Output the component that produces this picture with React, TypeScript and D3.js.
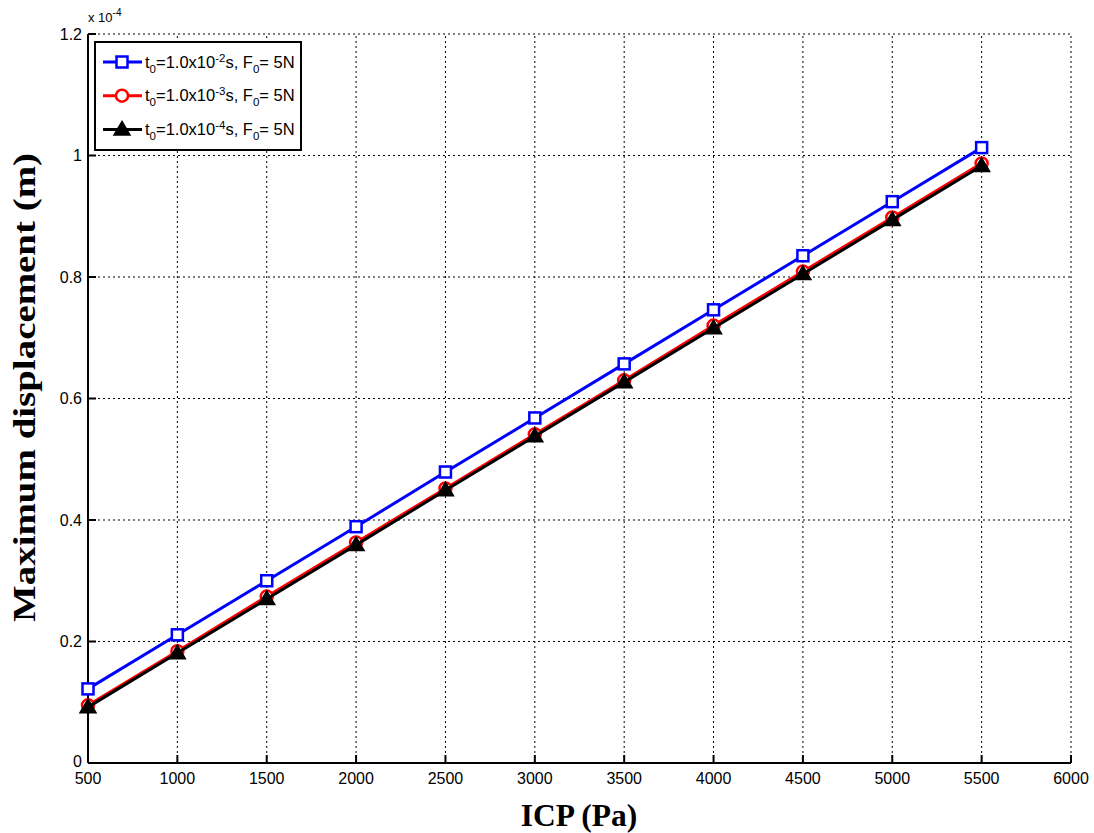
import React from "react";
import * as d3 from "d3";

const icp = [500, 1000, 1500, 2000, 2500, 3000, 3500, 4000, 4500, 5000, 5500];
const blueVals = [0.122, 0.211, 0.300, 0.389, 0.479, 0.568, 0.657, 0.746, 0.835, 0.924, 1.013];
const redVals = [0.095, 0.184, 0.274, 0.363, 0.452, 0.541, 0.630, 0.720, 0.809, 0.898, 0.987];
const blackVals = [0.092, 0.181, 0.270, 0.359, 0.449, 0.538, 0.627, 0.716, 0.805, 0.894, 0.983];
const xTicks = [500, 1000, 1500, 2000, 2500, 3000, 3500, 4000, 4500, 5000, 5500, 6000];
const yTicks = [0, 0.2, 0.4, 0.6, 0.8, 1, 1.2];
const legendExps = ["-2", "-3", "-4"];

const W = 1094, H = 833;
const L = 88, R = 1071, T = 34, B = 763;

export default function App() {
  const x = d3.scaleLinear().domain([500, 6000]).range([L, R]);
  const y = d3.scaleLinear().domain([0, 1.2]).range([B, T]);
  const line = d3.line<number>().x((_, i) => x(icp[i])).y((d) => y(d));
  const font = "'Liberation Sans', Arial, sans-serif";
  const serif = "'Liberation Serif', 'Times New Roman', serif";

  const series = [
    { vals: blueVals, color: "#0000ff", marker: "square" },
    { vals: redVals, color: "#ff0000", marker: "circle" },
    { vals: blackVals, color: "#000000", marker: "triangle" },
  ];

  const drawMarker = (m: string, color: string, cx: number, cy: number, key: any) => {
    if (m === "square")
      return <rect key={key} x={cx - 5.5} y={cy - 5.5} width={11} height={11} fill="white" stroke={color} strokeWidth={2.5} />;
    if (m === "circle")
      return <circle key={key} cx={cx} cy={cy} r={6} fill="white" stroke={color} strokeWidth={2.5} />;
    const s = 8;
    return (
      <path key={key} d={`M${cx},${cy - s}L${cx + s},${cy + s * 0.7}L${cx - s},${cy + s * 0.7}Z`} fill="black" stroke={color} strokeWidth={1.5} />
    );
  };

  return (
    <svg width={W} height={H} style={{ position: "absolute", left: 0, top: 0, background: "white" }}>
      <rect width={W} height={H} fill="white" />
      {/* grid */}
      {xTicks.map((t) => (
        <line key={"gx" + t} x1={x(t)} x2={x(t)} y1={B} y2={T} stroke="black" strokeWidth={1} strokeDasharray="2,3" />
      ))}
      {yTicks.map((t) => (
        <line key={"gy" + t} x1={L} x2={R} y1={y(t)} y2={y(t)} stroke="black" strokeWidth={1} strokeDasharray="2,3" />
      ))}
      {/* axes */}
      <line x1={L} x2={R} y1={B} y2={B} stroke="black" strokeWidth={2} />
      <line x1={L} x2={L} y1={B} y2={T} stroke="black" strokeWidth={2} />
      {xTicks.map((t) => (
        <line key={"tx" + t} x1={x(t)} x2={x(t)} y1={B} y2={B - 8} stroke="black" strokeWidth={2} />
      ))}
      {yTicks.map((t) => (
        <line key={"ty" + t} x1={L} x2={L + 8} y1={y(t)} y2={y(t)} stroke="black" strokeWidth={2} />
      ))}
      {xTicks.map((t) => (
        <text key={"lx" + t} x={x(t)} y={B + 21} textAnchor="middle" fontFamily={font} fontSize={16}>{t}</text>
      ))}
      {yTicks.map((t) => (
        <text key={"ly" + t} x={L - 6} y={y(t) + (t === 0 ? 4 : 5.5)} textAnchor="end" fontFamily={font} fontSize={16}>{String(t)}</text>
      ))}
      <text x={L} y={T - 12} fontFamily={font} fontSize={13}>
        x 10<tspan dy={-6} fontSize={10}>-4</tspan>
      </text>
      {/* series */}
      {series.map((s, si) => (
        <g key={"s" + si}>
          <path d={line(s.vals) || ""} fill="none" stroke={s.color} strokeWidth={3} />
          {s.vals.map((v, i) => drawMarker(s.marker, s.color, x(icp[i]), y(v), i))}
        </g>
      ))}
      {/* legend */}
      <rect x={95} y={42} width={206} height={108} fill="white" stroke="black" strokeWidth={2} />
      {series.map((s, i) => {
        const ly = 62 + i * 33.7;
        return (
          <g key={"lg" + i}>
            <line x1={103} x2={142} y1={ly} y2={ly} stroke={s.color} strokeWidth={3} />
            {drawMarker(s.marker, s.color, 122, ly, "m")}
            <text x={145} y={ly + 5.5} fontFamily={font} fontSize={16.5}>
              t<tspan dy={5} fontSize={11.5}>0</tspan>
              <tspan dy={-5}>=1.0x10</tspan>
              <tspan dy={-6} fontSize={11.5}>{legendExps[i]}</tspan>
              <tspan dy={6}>s, F</tspan>
              <tspan dy={5} fontSize={11.5}>0</tspan>
              <tspan dy={-5}>= 5N</tspan>
            </text>
          </g>
        );
      })}
      {/* axis titles */}
      <text x={579} y={826} textAnchor="middle" fontFamily={serif} fontWeight="bold" fontSize={31.5}>ICP (Pa)</text>
      <text transform={`translate(35, 387.5) rotate(-90)`} textAnchor="middle" fontFamily={serif} fontWeight="bold" fontSize={32} textLength={469} lengthAdjust="spacingAndGlyphs">Maximum displacement (m)</text>
    </svg>
  );
}
